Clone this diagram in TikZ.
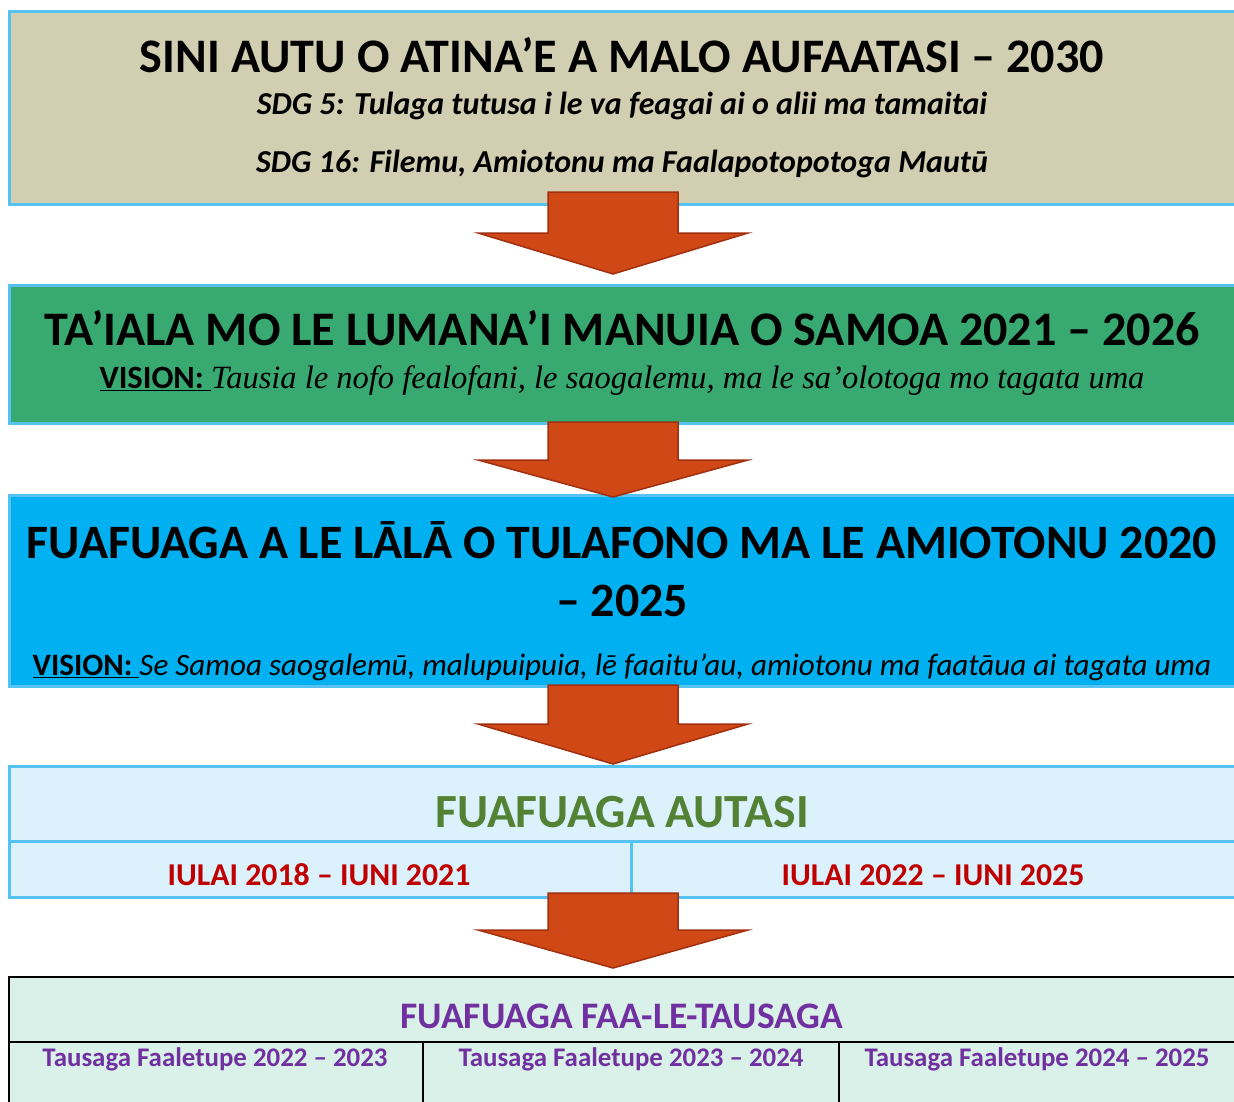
\documentclass[tikz,border=0pt]{standalone}
\usepackage{fontspec}
\usepackage{xcolor}
\setmainfont{Carlito}
\newfontfamily\visionserif{Liberation Serif}
\usetikzlibrary{calc}

\definecolor{sdgtan}{HTML}{D2CEB1}
\definecolor{planegreen}{HTML}{38A970}
\definecolor{lawcyan}{HTML}{00B0F0}
\definecolor{edgeblue}{HTML}{55C2F2}
\definecolor{autasifill}{HTML}{DBF1FB}
\definecolor{tausagafill}{HTML}{DAF1EA}
\definecolor{arrowred}{HTML}{D14817}
\definecolor{arrowedge}{HTML}{A0300F}
\definecolor{autasigreen}{HTML}{548235}
\definecolor{daterred}{HTML}{C00000}
\definecolor{tausagapurple}{HTML}{7030A0}

% block arrow between two levels: top, base of head, tip
\newcommand{\flowarrow}[3]{%
  \draw[flowarr] (548,#1) -- (678,#1) -- (678,#2) -- (748,#2) -- (613,#3)
    -- (478,#2) -- (548,#2) -- cycle;}

\newcommand{\fsize}[1]{\fontsize{#1}{1.2\dimexpr#1pt\relax}\selectfont}

\begin{document}
\begin{tikzpicture}[x=0.02cm, y=-0.02cm,
    panel/.style={draw=edgeblue, line width=0.06cm, anchor=north west,
      minimum width=24.8cm, inner sep=0pt},
    rule/.style={draw=edgeblue, line width=0.06cm},
    blackrule/.style={draw=black, line width=0.045cm},
    flowarr/.style={fill=arrowred, draw=arrowedge, line width=0.03cm},
    txt/.style={anchor=base, inner sep=0pt}]
    \clip (0,0) rectangle (1234,1102);

    % Cajas de los niveles
    \node[panel, fill=sdgtan, minimum height=3.86cm] (sdg) at (8,10) {};
    \node[panel, fill=planegreen, minimum height=2.76cm] (pds) at (8,284) {};
    \node[panel, fill=lawcyan, minimum height=3.82cm] (lawplan) at (8,494) {};
    \node[panel, fill=autasifill, minimum height=2.62cm] (autasi) at (8,765) {};
    \node[panel, draw=black, line width=0.045cm, fill=tausagafill,
      minimum height=3cm] (tausaga) at (8,976) {};

    % Divisiones de las tablas
    \draw[rule] (8,841) -- (1240,841);
    \draw[rule] (631,841) -- (631,896);
    \draw[blackrule] (8,1042) -- (1240,1042);
    \draw[blackrule] (423,1042) -- (423,1110);
    \draw[blackrule] (839,1042) -- (839,1110);

    % Flechas entre los niveles
    \flowarrow{192}{233}{274}
    \flowarrow{422}{460}{497}
    \flowarrow{685}{724}{764}
    \flowarrow{893}{930}{968}

    % Textos
    \node[txt] (sdgtitle) at (622,72) {\fsize{27.4}\bfseries SINI AUTU O ATINA’E A MALO AUFAATASI – 2030};
    \node[txt] (sdg5) at (622,114) {\fsize{18.2}\bfseries\itshape SDG 5: Tulaga tutusa i le va feagai ai o alii ma tamaitai};
    \node[txt] (sdg16) at (622,172) {\fsize{18.2}\bfseries\itshape SDG 16: Filemu, Amiotonu ma Faalapotopotoga Mautū};

    \node[txt] (pdstitle) at (622,345) {\fsize{27.4}\bfseries TA’IALA MO LE LUMANA’I MANUIA O SAMOA 2021 – 2026};
    \node[txt] (pdsvision) at (622,388) {\fsize{18.5}\underline{\bfseries VISION:\ }{\visionserif\itshape Tausia le nofo fealofani, le saogalemu, ma le sa’olotoga mo tagata uma}};

    \node[txt] (lawtitle) at (622,558) {\fsize{27.3}\bfseries FUAFUAGA A LE LĀLĀ O TULAFONO MA LE AMIOTONU 2020};
    \node[txt] (lawyears) at (622,616) {\fsize{27.3}\bfseries – 2025};
    \node[txt] (lawvision) at (622,675) {\fsize{17.7}\underline{\bfseries VISION:\ }{\itshape Se Samoa saogalemū, malupuipuia, lē faaitu’au, amiotonu ma faatāua ai tagata uma}};

    \node[txt, text=autasigreen] (autasititle) at (622,827) {\fsize{27.1}\bfseries FUAFUAGA AUTASI};
    \node[txt, text=daterred] (autasi1) at (319,885) {\fsize{18.1}\bfseries IULAI 2018 – IUNI 2021};
    \node[txt, text=daterred] (autasi2) at (933,885) {\fsize{18.1}\bfseries IULAI 2022 – IUNI 2025};

    \node[txt, text=tausagapurple] (tausagatitle) at (622,1028) {\fsize{21.3}\bfseries FUAFUAGA FAA-LE-TAUSAGA};
    \node[txt, text=tausagapurple] (year1) at (215,1066) {\fsize{15.3}\bfseries Tausaga Faaletupe 2022 – 2023};
    \node[txt, text=tausagapurple] (year2) at (631,1066) {\fsize{15.3}\bfseries Tausaga Faaletupe 2023 – 2024};
    \node[txt, text=tausagapurple] (year3) at (1037,1066) {\fsize{15.3}\bfseries Tausaga Faaletupe 2024 – 2025};
\end{tikzpicture}
\end{document}
